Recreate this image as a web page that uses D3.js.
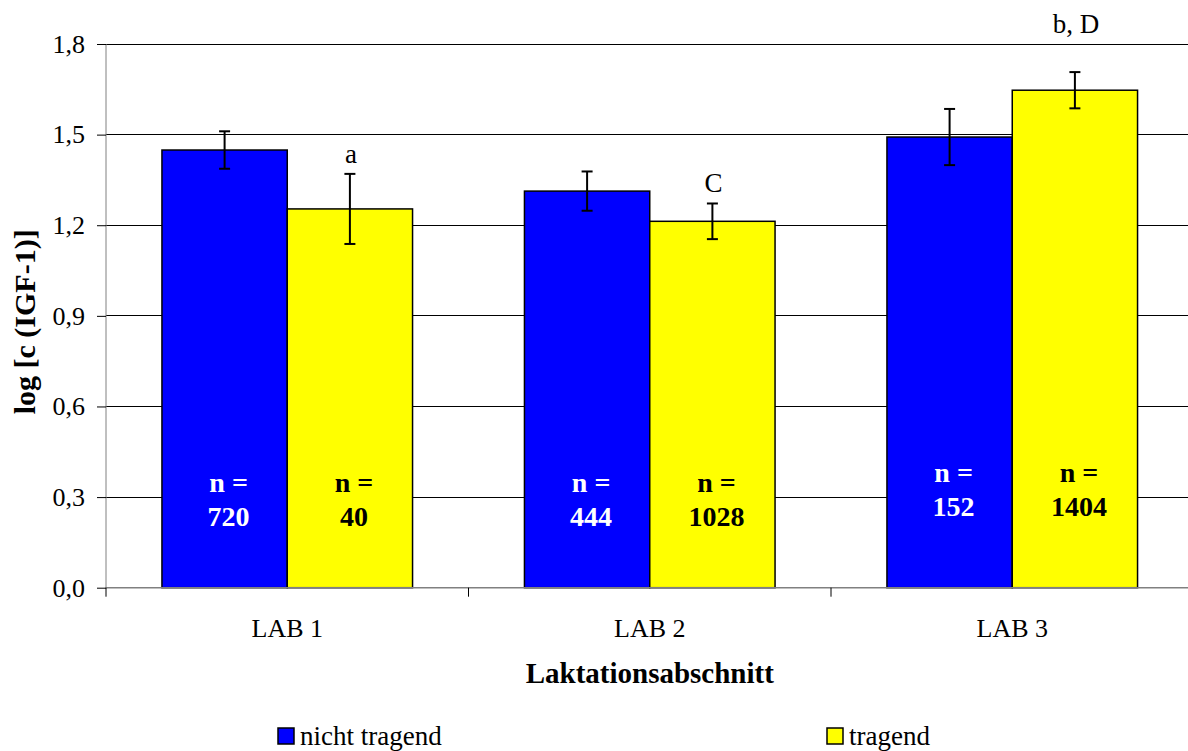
<!DOCTYPE html>
<html>
<head>
<meta charset="utf-8">
<script src="https://cdn.jsdelivr.net/npm/d3@7/dist/d3.min.js"></script>
<style>
  html, body { margin: 0; padding: 0; background: #fff; }
  svg { display: block; font-family: "Liberation Serif", "Times New Roman", serif; }
</style>
</head>
<body>
<svg id="chart" width="1188" height="751"></svg>
<script>
// IGF-1 concentration (log) by lactation stage and pregnancy status
const categories = ["LAB 1", "LAB 2", "LAB 3"];
const seriesNames = ["nicht tragend", "tragend"];
const meansNichtTragend = [1.449, 1.313, 1.492];
const errNichtTragend   = [0.062, 0.065, 0.093];
const meansTragend      = [1.254, 1.213, 1.647];
const errTragend        = [0.116, 0.059, 0.060];
const nNichtTragend = [720, 444, 152];
const nTragend      = [40, 1028, 1404];
const letterTragend = ["a", "C", "b, D"];
const yTicks = [0, 0.3, 0.6, 0.9, 1.2, 1.5, 1.8];
const colors = ["#0000ff", "#ffff00"];

const svg = d3.select("#chart");
const plotL = 106, plotR = 1193.5, plotT = 44, plotB = 587.7;
const fmt = v => d3.format(".1f")(v).replace(".", ",");

const x0 = d3.scaleBand().domain(categories).range([plotL, plotR]).paddingInner(0).paddingOuter(0);
const x1 = d3.scaleBand().domain(seriesNames).range([0, x0.bandwidth()]).paddingInner(0).paddingOuter(0.4465);
const y = d3.scaleLinear().domain([0, 1.8]).range([plotB, plotT]);

// horizontal gridlines
svg.append("g").selectAll("line").data(yTicks.filter(t => t > 0)).join("line")
  .attr("x1", plotL).attr("x2", plotR)
  .attr("y1", d => y(d)).attr("y2", d => y(d))
  .attr("stroke", "#000").attr("stroke-width", 1).attr("shape-rendering", "crispEdges");

// y axis
const yAxis = svg.append("g").attr("transform", `translate(${plotL},0)`)
  .call(d3.axisLeft(y).tickValues(yTicks).tickFormat(fmt).tickSize(9).tickPadding(12));
yAxis.select(".domain").attr("stroke", "#808080").attr("d", `M0,${plotT}V${plotB + 1}`);
yAxis.selectAll(".tick line").attr("stroke", "#000");
yAxis.selectAll(".tick text").attr("font-size", 26).attr("fill", "#000")
  .attr("font-family", "Liberation Serif, serif");

// bars
const rows = categories.map((c, i) => [
  { cat: c, s: seriesNames[0], v: meansNichtTragend[i], e: errNichtTragend[i], n: nNichtTragend[i], idx: 0, i },
  { cat: c, s: seriesNames[1], v: meansTragend[i], e: errTragend[i], n: nTragend[i], idx: 1, i, letter: letterTragend[i] }
]);
const all = rows.flat();

svg.append("g").selectAll("rect").data(all).join("rect")
  .attr("x", d => x0(d.cat) + x1(d.s))
  .attr("y", d => y(d.v))
  .attr("width", x1.bandwidth())
  .attr("height", d => y(0) - y(d.v))
  .attr("fill", d => colors[d.idx])
  .attr("stroke", "#000").attr("stroke-width", 1.5);

// x axis
const xAxisG = svg.append("g");
xAxisG.append("line").attr("x1", plotL).attr("x2", plotR).attr("y1", plotB).attr("y2", plotB)
  .attr("stroke", "#808080").attr("stroke-width", 1.5);
xAxisG.selectAll("line.tk").data(d3.range(categories.length + 1)).join("line").attr("class", "tk")
  .attr("x1", i => plotL + i * x0.bandwidth()).attr("x2", i => plotL + i * x0.bandwidth())
  .attr("y1", plotB).attr("y2", plotB + 9)
  .attr("stroke", "#000").attr("stroke-width", 1);
xAxisG.selectAll("text").data(categories).join("text")
  .attr("x", d => x0(d) + x0.bandwidth() / 2).attr("y", 637)
  .attr("text-anchor", "middle").attr("font-size", 26).text(d => d);

// error bars
const capW = 11;
const eb = svg.append("g").attr("stroke", "#000").attr("stroke-width", 2);
all.forEach(d => {
  const cx = x0(d.cat) + x1(d.s) + x1.bandwidth() / 2;
  const yt = y(d.v + d.e), yb = y(d.v - d.e);
  eb.append("line").attr("x1", cx).attr("x2", cx).attr("y1", yt).attr("y2", yb);
  eb.append("line").attr("x1", cx - capW / 2).attr("x2", cx + capW / 2).attr("y1", yt).attr("y2", yt);
  eb.append("line").attr("x1", cx - capW / 2).attr("x2", cx + capW / 2).attr("y1", yb).attr("y2", yb);
});

// significance letters above the "tragend" error bars; lifted above the frame when they would hit it
svg.append("g").selectAll("text").data(all.filter(d => d.letter)).join("text")
  .attr("x", d => x0(d.cat) + x1(d.s) + x1.bandwidth() / 2 + 1)
  .attr("y", d => {
    const ly = y(d.v + d.e) - 11;
    return ly - 20 < plotT ? plotT - 11 : ly;
  })
  .attr("text-anchor", "middle").attr("font-size", 27).text(d => d.letter);

// sample sizes inside the bars
const nG = svg.append("g").attr("font-weight", "bold").attr("font-size", 28).attr("text-anchor", "middle");
all.forEach(d => {
  const cx = x0(d.cat) + x1(d.s) + x1.bandwidth() / 2 + 4;
  const base = d.i === 2 ? 482 : 492;
  const fill = d.idx === 0 ? "#fff" : "#000";
  nG.append("text").attr("x", cx).attr("y", base).attr("fill", fill).text("n =");
  nG.append("text").attr("x", cx).attr("y", base + 34).attr("fill", fill).text(d.n);
});

// axis titles
svg.append("text").attr("x", (plotL + plotR) / 2).attr("y", 683)
  .attr("text-anchor", "middle").attr("font-size", 29).attr("font-weight", "bold")
  .text("Laktationsabschnitt");
svg.append("text").attr("transform", `translate(35,${(plotT + plotB) / 2 + 6}) rotate(-90)`)
  .attr("text-anchor", "middle").attr("font-size", 30).attr("font-weight", "bold")
  .text("log [c (IGF-1)]");

// legend
const legendX = [278, 827];
const lg = svg.append("g");
seriesNames.forEach((s, i) => {
  lg.append("rect").attr("x", legendX[i]).attr("y", 728).attr("width", 16).attr("height", 16)
    .attr("fill", colors[i]).attr("stroke", "#000").attr("stroke-width", 1.5);
  lg.append("text").attr("x", legendX[i] + 22).attr("y", 745).attr("font-size", 27).text(s);
});
</script>
</body>
</html>
